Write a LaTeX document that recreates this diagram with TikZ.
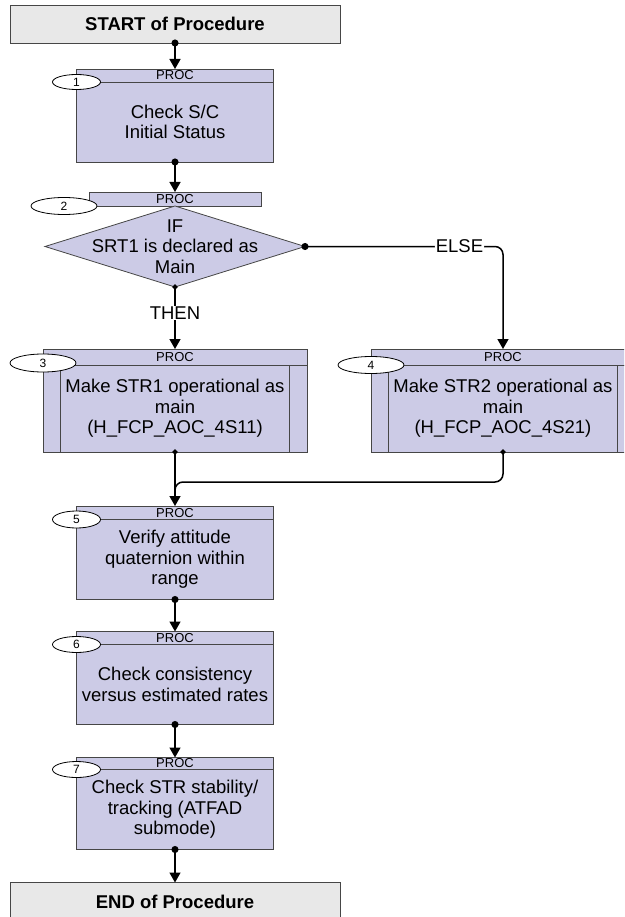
\documentclass[tikz,border=0pt]{standalone}
\usepackage{fontspec}
\setmainfont{Liberation Sans}
\usetikzlibrary{positioning,shapes.geometric,arrows.meta}

\definecolor{procfill}{RGB}{204,203,230}
\definecolor{termfill}{RGB}{232,232,232}
\definecolor{boxline}{RGB}{70,70,70}

\tikzset{
  box/.style={rectangle,draw=boxline,line width=0.8pt,fill=procfill,inner sep=0pt,outer sep=0pt,align=center},
  head/.style={box,minimum width=197pt,minimum height=13pt,font=\fontsize{13}{13}\selectfont},
  body/.style={box,minimum width=197pt,minimum height=80pt},
  wide/.style={minimum width=264pt},
  term/.style={box,fill=termfill,minimum width=330pt,minimum height=38pt,font=\fontsize{18.5}{20.5}\selectfont\bfseries},
  decide/.style={diamond,draw=boxline,line width=0.8pt,fill=procfill,minimum width=260pt,minimum height=81pt,inner sep=0pt,outer sep=0pt},
  num/.style={ellipse,draw=black,line width=0.8pt,fill=white,minimum width=48pt,minimum height=15pt,inner sep=0pt,font=\fontsize{12}{12}\selectfont},
  bignum/.style={num,minimum width=66pt,minimum height=18pt},
  flow/.style={{Circle[length=7pt]}->,shorten <=-3.5pt,line width=1.5pt},
  smallflow/.style={{Circle[length=5pt]}->,shorten <=-2.5pt,line width=1.5pt},
  merge/.style={{Circle[length=5pt]}-,shorten <=-2.5pt,line width=1.5pt},
  tag/.style={fill=white,inner sep=1pt}
}

\begin{document}
\begin{tikzpicture}[x=1pt,y=1pt,>={Triangle[width=11pt,length=10pt]},font=\fontsize{18.5}{20.5}\selectfont]
        \useasboundingbox (0,0) rectangle (624,-917);
        \clip (0,0) rectangle (624,-917);

        \node[term] (start) at (175,-24) {START of Procedure};
        \node[head] (h1) [below=26pt of start] {PROC};
        \node[body] (p1) [below=0pt of h1] {Check S/C\\Initial Status};
        \node[head,minimum width=172pt,minimum height=14pt] (h2) [below=30pt of p1] {PROC};
        \node[decide] (d2) [below=0pt of h2] {};
        \node[align=center] (t2) at (d2.center) {IF\\SRT1 is declared as\\Main};
        \node[head,wide,minimum height=16pt] (h3) [below=62pt of d2] {PROC};
        \node[body,wide,minimum height=87pt] (p3) [below=0pt of h3] {Make STR1 operational as\\main\\(H\_FCP\_AOC\_4S11)};
        \node[head,wide,minimum height=16pt] (h4) [right=64pt of h3] {PROC};
        \node[body,wide,minimum height=87pt] (p4) [below=0pt of h4] {Make STR2 operational as\\main\\(H\_FCP\_AOC\_4S21)};
        \node[head,minimum height=13.5pt] (h5) [below=54pt of p3] {PROC};
        \node[body] (p5) [below=0pt of h5] {Verify attitude\\quaternion within\\range};
        \node[head] (h6) [below=32pt of p5] {PROC};
        \node[body] (p6) [below=0pt of h6] {Check consistency\\versus estimated rates};
        \node[head,minimum height=12pt] (h7) [below=33pt of p6] {PROC};
        \node[body] (p7) [below=0pt of h7] {Check STR stability/\\tracking (ATFAD\\submode)};
        \node[term] (end) [below=33pt of p7] {END of Procedure};

        % sub-procedure side bars
        \foreach \b in {p3,p4}{
            \draw[boxline,line width=0.8pt] ([xshift=17pt]\b.north west) -- ([xshift=17pt]\b.south west);
            \draw[boxline,line width=0.8pt] ([xshift=-18pt]\b.north east) -- ([xshift=-18pt]\b.south east);
        }

        \foreach \a/\b in {start/h1,p1/h2,p5/h6,p6/h7,p7/end}
            \draw[flow] (\a.south) -- (\b.north);
        \draw[smallflow] (d2.south) -- node[tag,pos=0.42] (then) {THEN} (h3.north);
        \draw[flow,rounded corners=8pt] (d2.east) -| node[tag,pos=0.39] (else) {ELSE} (h4.north);
        \draw[smallflow] (p3.south) -- (h5.north);
        \draw[merge,rounded corners=8pt] (p4.south) |- ([yshift=24pt]h5.north) -- ([yshift=10pt]h5.north);

        % step numbers
        \node[num] (o1) at (p1.north west) {1};
        \node[bignum,minimum height=17pt] (o2) at ([xshift=-25pt]h2.south west) {2};
        \node[bignum] (o3) at ([yshift=2pt]p3.north west) {3};
        \node[bignum,minimum height=17pt] (o4) at (p4.north west) {4};
        \node[num,minimum height=17pt] (o5) at (p5.north west) {5};
        \node[num,minimum height=16pt] (o6) at (p6.north west) {6};
        \node[num,minimum height=16pt] (o7) at (p7.north west) {7};
\end{tikzpicture}
\end{document}
